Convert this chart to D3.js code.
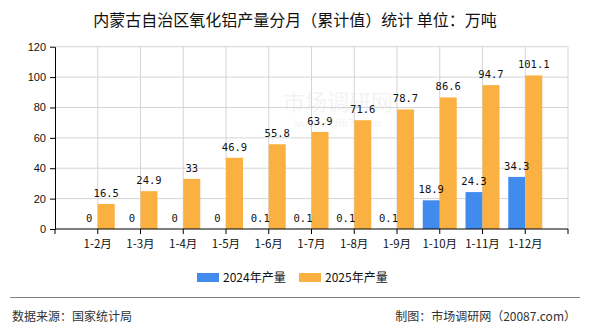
<!DOCTYPE html>
<html>
<head>
<meta charset="utf-8">
<script src="https://cdn.jsdelivr.net/npm/d3@7"></script>
<style>
  body { margin: 0; background: #fff; }
  svg { display: block; }
</style>
</head>
<body>
<div id="chart"></div>
<script>
// data
var categories = ['1-2月', '1-3月', '1-4月', '1-5月', '1-6月', '1-7月', '1-8月', '1-9月', '1-10月', '1-11月', '1-12月']
var values2024 = [0, 0, 0, 0, 0.1, 0.1, 0.1, 0.1, 18.9, 24.3, 34.3]
var values2025 = [16.5, 24.9, 33, 46.9, 55.8, 63.9, 71.6, 78.7, 86.6, 94.7, 101.1]
var seriesNames = ['2024年产量', '2025年产量']
var yTicks = [0, 20, 40, 60, 80, 100, 120]

var width = 590
var height = 330
var margin = {top: 46.7, right: 22, bottom: 101, left: 55}
var plotRight = width - margin.right
var plotBottom = height - margin.bottom

var colors = ['#418bee', '#fbb141']
var barWidth = 17

var svg = d3.select('#chart').append('svg')
    .attr('width', width)
    .attr('height', height)

// one empty slot before the first category, the points sit on the slot borders
var step = (plotRight - margin.left) / (categories.length + 1)
var x = d3.scalePoint()
    .domain(categories)
    .range([margin.left + step, plotRight - step])

var y = d3.scaleLinear()
    .domain([0, 120])
    .range([plotBottom, margin.top])

// watermark
svg.append('text')
    .attr('x', 338).attr('y', 110)
    .attr('text-anchor', 'middle')
    .style('font-family', 'Noto Sans CJK SC')
    .style('font-size', '22px')
    .style('fill', '#000')
    .style('opacity', 0.045)
    .text('市场调研网')
svg.append('text')
    .attr('x', 338).attr('y', 127)
    .attr('text-anchor', 'middle')
    .style('font-family', 'DejaVu Sans Mono')
    .style('font-size', '11px')
    .style('fill', '#000')
    .style('opacity', 0.045)
    .text('www.20087.com')

// grid
var grid = svg.append('g').attr('class', 'grid')
grid.selectAll('.hline')
    .data(yTicks.filter(function(d) { return d > 0 }))
    .enter().append('line')
    .attr('x1', margin.left)
    .attr('x2', plotRight)
    .attr('y1', function(d) { return y(d) })
    .attr('y2', function(d) { return y(d) })
    .attr('stroke', '#d4d4d4')
var vTicks = categories.map(function(c) { return x(c) }).concat([plotRight])
grid.selectAll('.vline')
    .data(vTicks)
    .enter().append('line')
    .attr('x1', function(d) { return d })
    .attr('x2', function(d) { return d })
    .attr('y1', margin.top)
    .attr('y2', plotBottom)
    .attr('stroke', '#d4d4d4')

// bars first, then all the value labels on top
var series = [values2024, values2025]
var bars = svg.append('g')
var labels = svg.append('g')
series.forEach(function(vals, s) {
    var offset = s == 0 ? -barWidth : 0
    bars.append('g').selectAll('rect')
        .data(vals)
        .enter().append('rect')
        .attr('x', function(d, i) { return x(categories[i]) + offset })
        .attr('y', function(d) { return y(d) })
        .attr('width', barWidth)
        .attr('height', function(d) { return plotBottom - y(d) })
        .attr('fill', colors[s])

    labels.append('g').selectAll('text')
        .data(vals)
        .enter().append('text')
        .attr('x', function(d, i) { return x(categories[i]) + offset + barWidth / 2 })
        .attr('y', function(d) { return y(d) - 7 })
        .attr('text-anchor', 'middle')
        .style('font-family', 'DejaVu Sans Mono')
        .style('font-size', '10.5px')
        .style('fill', '#111')
        .text(function(d) { return d })
})

// axes
var yAxis = svg.append('g')
    .attr('transform', 'translate(' + margin.left + ',0)')
    .call(d3.axisLeft(y).tickValues(yTicks).tickSize(5).tickSizeOuter(0))
yAxis.select('.domain').attr('stroke', '#000')
yAxis.selectAll('line').attr('stroke', '#000')
yAxis.selectAll('text')
    .attr('x', -9)
    .style('font-family', 'Liberation Sans')
    .style('font-size', '11px')
    .style('fill', '#111')

var xAxis = svg.append('g').attr('transform', 'translate(0,' + plotBottom + ')')
xAxis.append('line')
    .attr('x1', margin.left).attr('x2', plotRight)
    .attr('stroke', '#000')
xAxis.selectAll('.tick')
    .data([margin.left].concat(vTicks))
    .enter().append('line')
    .attr('x1', function(d) { return d })
    .attr('x2', function(d) { return d })
    .attr('y1', 0).attr('y2', 5)
    .attr('stroke', '#000')
xAxis.selectAll('.label')
    .data(categories)
    .enter().append('text')
    .attr('x', function(d) { return x(d) })
    .attr('y', 19)
    .attr('text-anchor', 'middle')
    .style('font-family', 'Noto Sans CJK SC')
    .style('font-size', '11.5px')
    .style('fill', '#111')
    .text(function(d) { return d })

// title
svg.append('text')
    .attr('x', 295).attr('y', 26)
    .attr('text-anchor', 'middle')
    .style('font-family', 'Noto Sans CJK SC')
    .style('font-size', '16px')
    .style('fill', '#111')
    .text('内蒙古自治区氧化铝产量分月（累计值）统计 单位：万吨')

// legend
var legendX = [197, 299]
var legend = svg.selectAll('.legend')
    .data(seriesNames)
    .enter().append('g')
    .attr('transform', function(d, i) { return 'translate(' + legendX[i] + ',273)' })
legend.append('rect')
    .attr('width', 22).attr('height', 9)
    .attr('fill', function(d, i) { return colors[i] })
legend.append('text')
    .attr('x', 26).attr('y', 4.5)
    .attr('dy', '0.35em')
    .style('font-family', 'Noto Sans CJK SC')
    .style('font-size', '12px')
    .style('fill', '#111')
    .text(function(d) { return d })

// footer
svg.append('line')
    .attr('x1', 10).attr('x2', 580)
    .attr('y1', 297.5).attr('y2', 297.5)
    .attr('stroke', '#808080')
svg.append('text')
    .attr('x', 12).attr('y', 321)
    .style('font-family', 'Noto Sans CJK SC')
    .style('font-size', '12px')
    .style('fill', '#333')
    .text('数据来源：国家统计局')
svg.append('text')
    .attr('x', 576).attr('y', 321)
    .attr('text-anchor', 'end')
    .style('font-family', 'Noto Sans CJK SC')
    .style('font-size', '12px')
    .style('fill', '#333')
    .text('制图：市场调研网（20087.com）')
</script>
</body>
</html>
